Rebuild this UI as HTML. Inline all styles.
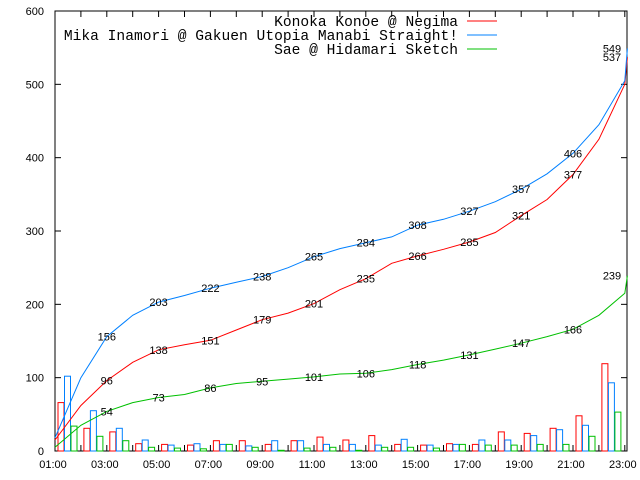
<!DOCTYPE html>
<html><head><meta charset="utf-8">
<style>
html,body{margin:0;padding:0;background:#fff;}
svg{display:block;}
text{font-family:"Liberation Sans",sans-serif;font-size:11px;fill:#000;}
.leg{font-family:"Liberation Mono",monospace;font-size:14.6px;}
</style></head>
<body>
<svg id="chart" width="640" height="480" viewBox="0 0 640 480" xmlns="http://www.w3.org/2000/svg">
<rect x="55" y="11" width="572" height="440" fill="none" stroke="#000" stroke-width="1"/>
<g id="grid"></g>
<g id="bars"></g>
<g id="lines"></g>
<g id="labels"></g>
<g id="legend">
<text class="leg" x="458" y="26" text-anchor="end">Konoka Konoe @ Negima</text>
<line x1="467" y1="21" x2="497" y2="21" stroke="#ff0000" stroke-width="1"/>
<text class="leg" x="458" y="40" text-anchor="end">Mika Inamori @ Gakuen Utopia Manabi Straight!</text>
<line x1="467" y1="35" x2="497" y2="35" stroke="#0080ff" stroke-width="1"/>
<text class="leg" x="458" y="54" text-anchor="end">Sae @ Hidamari Sketch</text>
<line x1="467" y1="49" x2="497" y2="49" stroke="#00c000" stroke-width="1"/>
</g>
</svg>
<script>
const hours = [1,2,3,4,5,6,7,8,9,10,11,12,13,14,15,16,17,18,19,20,21,22];
const redBars = [66,31,26,10,9,8,14,14,9,14,19,15,21,9,8,10,9,26,24,31,48,119];
const blueBars = [102,55,31,15,8,10,9,7,14,14,9,9,8,16,8,9,15,15,21,29,35,93];
const greenBars = [34,20,14,5,4,3,9,5,1,4,5,1,5,5,4,9,8,8,9,9,20,53];
const lineHours = [1,2,3,4,5,6,7,8,9,10,11,12,13,14,15,16,17,18,19,20,21,22,23,23.1];
const redCum = [15,62,96,121,138,145,151,165,179,188,201,220,235,256,266,275,285,298,321,343,377,425,500,537];
const blueCum = [18,100,156,185,203,212,222,230,238,250,265,276,284,292,308,316,327,340,357,378,406,445,505,549];
const greenCum = [5,35,54,66,73,77,86,92,95,98,101,105,106,111,118,124,131,139,147,156,166,185,215,239];
const labelHours = [3,5,7,9,11,13,15,17,19,21];
const yTicks = [0,100,200,300,400,500,600];
const xTickLabels = ["01:00","03:00","05:00","07:00","09:00","11:00","13:00","15:00","17:00","19:00","21:00","23:00"];

const NS="http://www.w3.org/2000/svg";
const X0=55, HW=25.9, Y0=451, YS=440/600;
function xs(h){return X0+(h-1)*HW;}
function ys(v){return Y0-v*YS;}
function mk(tag,attrs,parent){const e=document.createElementNS(NS,tag);for(const k in attrs)e.setAttribute(k,attrs[k]);parent.appendChild(e);return e;}

const grid=document.getElementById('grid');
yTicks.forEach(v=>{
  const y=ys(v);
  let t=mk('line',{x1:X0,y1:y,x2:X0+6,y2:y,stroke:'#000'},grid);
  
  
  let t2=mk('line',{x1:627,y1:y,x2:621,y2:y,stroke:'#000'},grid);
  
  
  let l=mk('text',{x:44,y:y+4,'text-anchor':'end'},grid);
  l.textContent=v;
  
  
});
for(let h=1;h<=23;h++){
  const x=xs(h);
  let t=mk('line',{x1:x,y1:Y0,x2:x,y2:Y0-6,stroke:'#000'},grid);
  
  
  let t2=mk('line',{x1:x,y1:11,x2:x,y2:17,stroke:'#000'},grid);
  
  
}
xTickLabels.forEach((s,i)=>{
  const h=1+2*i;
  let l=mk('text',{x:xs(h)-2,y:468,'text-anchor':'middle'},grid);
  l.textContent=s;
  
  
});

const bars=document.getElementById('bars');
const BW=HW/4;
[[redBars,'#ff0000',3,'bar-konoka'],[blueBars,'#0080ff',3+BW,'bar-mika'],[greenBars,'#00c000',3+2*BW,'bar-sae']].forEach(([arr,col,off,name])=>{
  arr.forEach((v,i)=>{
    const x=xs(hours[i])+off;
    let r=mk('rect',{x:x.toFixed(1),y:ys(v).toFixed(1),width:(BW-0.5).toFixed(1),height:(v*YS).toFixed(1),fill:'none',stroke:col,'stroke-width':1},bars);
    
    
  });
});

const lines=document.getElementById('lines');
const labels=document.getElementById('labels');
[[redCum,'#ff0000','line-konoka'],[blueCum,'#0080ff','line-mika'],[greenCum,'#00c000','line-sae']].forEach(([arr,col,name])=>{
  const pts=arr.map((v,i)=>xs(lineHours[i]).toFixed(1)+','+ys(v).toFixed(1)).join(' ');
  let p=mk('polyline',{points:pts,fill:'none',stroke:col,'stroke-width':1},lines);
  
  
  labelHours.forEach(h=>{
    const i=lineHours.indexOf(h);
    let t=mk('text',{x:xs(h),y:ys(arr[i])+4,'text-anchor':'middle'},labels);
    t.textContent=arr[i];
    
    
  });
  const last=arr.length-1;
  let t=mk('text',{x:612,y:ys(arr[last])+4,'text-anchor':'middle'},labels);
  t.textContent=arr[last];
  
  
});
</script>
</body></html>
